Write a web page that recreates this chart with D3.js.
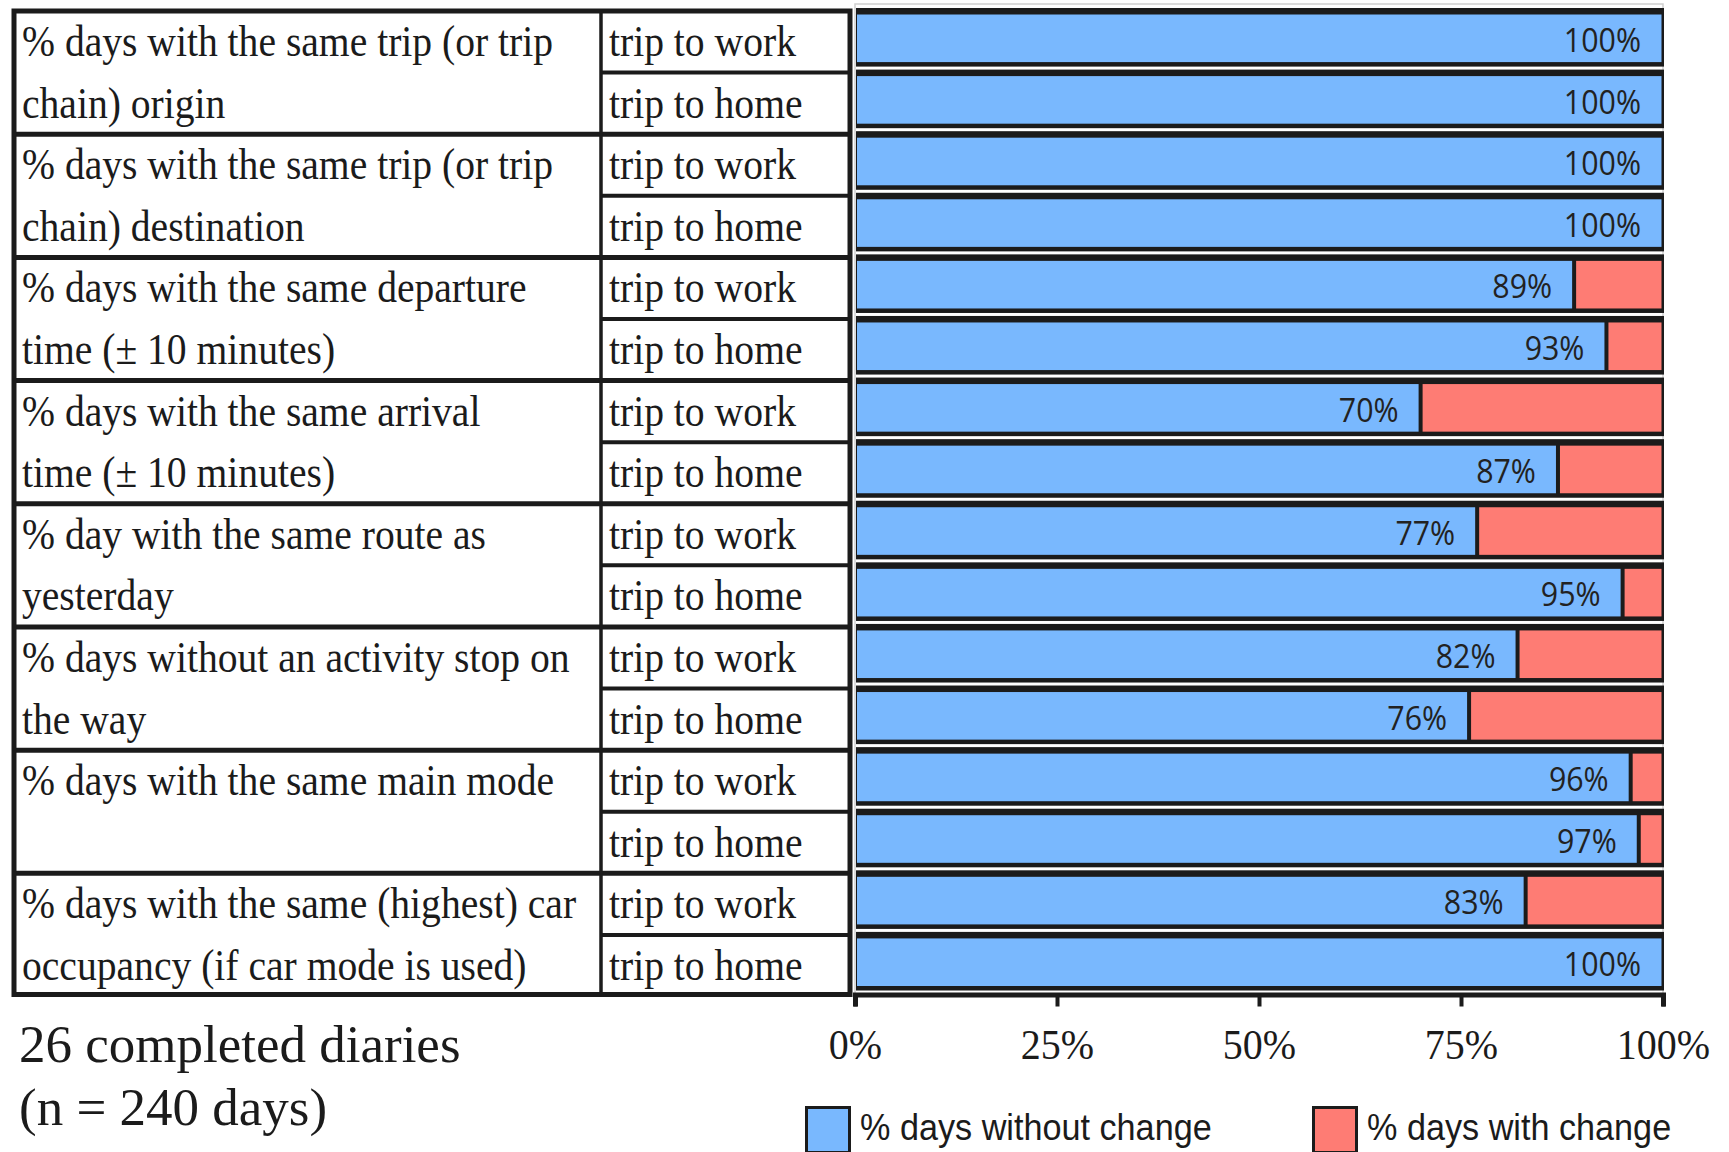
<!DOCTYPE html>
<html>
<head>
<meta charset="utf-8">
<script src="https://cdn.jsdelivr.net/npm/d3@7"></script>
<style>
  html, body { margin: 0; padding: 0; background: #fff; }
  svg { display: block; }
</style>
</head>
<body>
<svg id="chart" width="1729" height="1152"></svg>
<script>
// Indicator groups (two text lines each, shown in the first table column)
const indicators = [
  ["% days with the same trip (or trip", "chain) origin"],
  ["% days with the same trip (or trip", "chain) destination"],
  ["% days with the same departure", "time (\u00b1 10 minutes)"],
  ["% days with the same arrival", "time (\u00b1 10 minutes)"],
  ["% day with the same route as", "yesterday"],
  ["% days without an activity stop on", "the way"],
  ["% days with the same main mode", ""],
  ["% days with the same (highest) car", "occupancy (if car mode is used)"]
];
const tripTypes = ["trip to work", "trip to home"];

// One value per bar, top to bottom (work, home for each indicator)
const withoutChange = [100, 100, 100, 100, 89, 93, 70, 87, 77, 95, 82, 76, 96, 97, 83, 100];
const withChange    = [0, 0, 0, 0, 11, 7, 30, 13, 23, 5, 18, 24, 4, 3, 17, 0];

const xTicks = [0, 25, 50, 75, 100];
const seriesNames = ["% days without change", "% days with change"];
const seriesColors = ["#79b8fe", "#fe7c74"];
const noteLines = ["26 completed diaries", "(n = 240 days)"];

const svg = d3.select("#chart");
const ink = "#1b1b1b";
const serif = "'Liberation Serif', 'Times New Roman', serif";
const sans = "'Open Sans', 'Noto Sans', sans-serif";
const arial = "'Liberation Sans', Arial, sans-serif";

const rows = d3.range(withoutChange.length);
const table = { left: 14, mid: 601, right: 850 };
const y = d3.scaleBand().domain(rows).range([9, 994.5]).padding(0);
const x = d3.scaleLinear().domain([0, 100]).range([855, 1663]);
const bh = y.bandwidth();
const gridTop = y.range()[0], gridBottom = y.range()[1];

// ---------- stacked bars ----------
const stackData = rows.map(i => ({ row: i, without: withoutChange[i], with: withChange[i] }));
const stacked = d3.stack().keys(["without", "with"])(stackData);

const plot = svg.append("g");

// thin plot frame
plot.append("rect")
  .attr("x", x(0)).attr("y", 4)
  .attr("width", x(100) - x(0)).attr("height", gridBottom - 4)
  .attr("fill", "none").attr("stroke", "#cfcfcf").attr("stroke-width", 1.5);

// dark band behind each bar
plot.selectAll("rect.band").data(rows).join("rect")
  .attr("class", "band")
  .attr("x", x(0) + 1).attr("y", i => y(i) - 1)
  .attr("width", x(100) - x(0)).attr("height", bh - 3)
  .attr("fill", ink);

stacked.forEach((layer, li) => {
  plot.selectAll("rect.s" + li).data(layer.filter(d => d[1] - d[0] > 0)).join("rect")
    .attr("class", "s" + li)
    .attr("x", d => x(d[0]) + 2)
    .attr("y", d => y(d.data.row) + 5.5)
    .attr("width", d => Math.max(0, x(d[1]) - x(d[0]) - (d[1] === 100 ? 3.5 : 4)))
    .attr("height", bh - 14)
    .attr("fill", seriesColors[li]);
});

// value labels inside the blue segment
plot.selectAll("text.val").data(rows).join("text")
  .attr("class", "val")
  .attr("transform", i => `translate(${x(withoutChange[i]) - 22},${y(i) + 43}) scale(0.92,1)`)
  .attr("text-anchor", "end")
  .attr("font-family", sans).attr("font-size", 33)
  .attr("fill", "#222")
  .text(i => withoutChange[i] + "%");

// ---------- axis ----------
const axis = svg.append("g")
  .attr("transform", `translate(0,${gridBottom})`)
  .call(d3.axisBottom(x).tickValues(xTicks).tickSize(12).tickFormat(d => d + "%"));
axis.select(".domain").attr("stroke", ink).attr("stroke-width", 5);
axis.selectAll(".tick line").attr("stroke", ink).attr("stroke-width", 4);
axis.selectAll(".tick text")
  .attr("y", 65).attr("dy", 0)
  .attr("transform", "scale(0.93,1)")
  .attr("font-family", serif).attr("font-size", 43)
  .attr("fill", ink);

// ---------- table ----------
const tbl = svg.append("g");
const cellText = (sel) => sel
  .attr("font-family", serif).attr("font-size", 45)
  .attr("fill", ink);

// indicator text
indicators.forEach((lines, g) => {
  lines.forEach((t, k) => {
    if (!t) return;
    tbl.append("text")
      .attr("transform", `translate(${table.left + 8},${y(g * 2 + k) + 47}) scale(0.88,1)`)
      .call(cellText)
      .text(t);
  });
});
// trip type text
tbl.selectAll("text.trip").data(rows).join("text")
  .attr("class", "trip")
  .attr("transform", i => `translate(${table.mid + 8},${y(i) + 47}) scale(0.88,1)`)
  .call(cellText)
  .text(i => tripTypes[i % 2]);

// row separators in the trip column
tbl.selectAll("line.sub").data(rows.filter(i => i % 2 === 1)).join("line")
  .attr("class", "sub")
  .attr("x1", table.mid).attr("x2", table.right)
  .attr("y1", i => y(i) + 2).attr("y2", i => y(i) + 2)
  .attr("stroke", ink).attr("stroke-width", 4);
// group separators across both columns
tbl.selectAll("line.grp").data(rows.filter(i => i > 0 && i % 2 === 0)).join("line")
  .attr("class", "grp")
  .attr("x1", table.left).attr("x2", table.right)
  .attr("y1", i => y(i) + 2).attr("y2", i => y(i) + 2)
  .attr("stroke", ink).attr("stroke-width", 5);
// column divider
tbl.append("line")
  .attr("x1", table.mid).attr("x2", table.mid)
  .attr("y1", gridTop + 2).attr("y2", gridBottom)
  .attr("stroke", ink).attr("stroke-width", 3.5);
// outer frame
tbl.append("rect")
  .attr("x", table.left).attr("y", gridTop + 2)
  .attr("width", table.right - table.left).attr("height", gridBottom - gridTop - 2)
  .attr("fill", "none").attr("stroke", ink).attr("stroke-width", 5);

// ---------- sample note ----------
svg.selectAll("text.note").data(noteLines).join("text")
  .attr("class", "note")
  .attr("x", 19)
  .attr("y", (d, i) => 1062 + i * 63)
  .attr("font-family", serif).attr("font-size", 53)
  .attr("fill", ink)
  .text(d => d);

// ---------- legend ----------
const legendX = [805, 1312];
const lg = svg.selectAll("g.legend").data(seriesNames).join("g")
  .attr("class", "legend")
  .attr("transform", (d, i) => `translate(${legendX[i]},1106)`);
lg.append("rect")
  .attr("x", 1.5).attr("y", 1.5).attr("width", 43).attr("height", 45)
  .attr("fill", (d, i) => seriesColors[i])
  .attr("stroke", ink).attr("stroke-width", 3);
lg.append("text")
  .attr("transform", "translate(55,34) scale(0.95,1)")
  .attr("font-family", arial).attr("font-size", 36)
  .attr("fill", ink)
  .text(d => d);
</script>
</body>
</html>
